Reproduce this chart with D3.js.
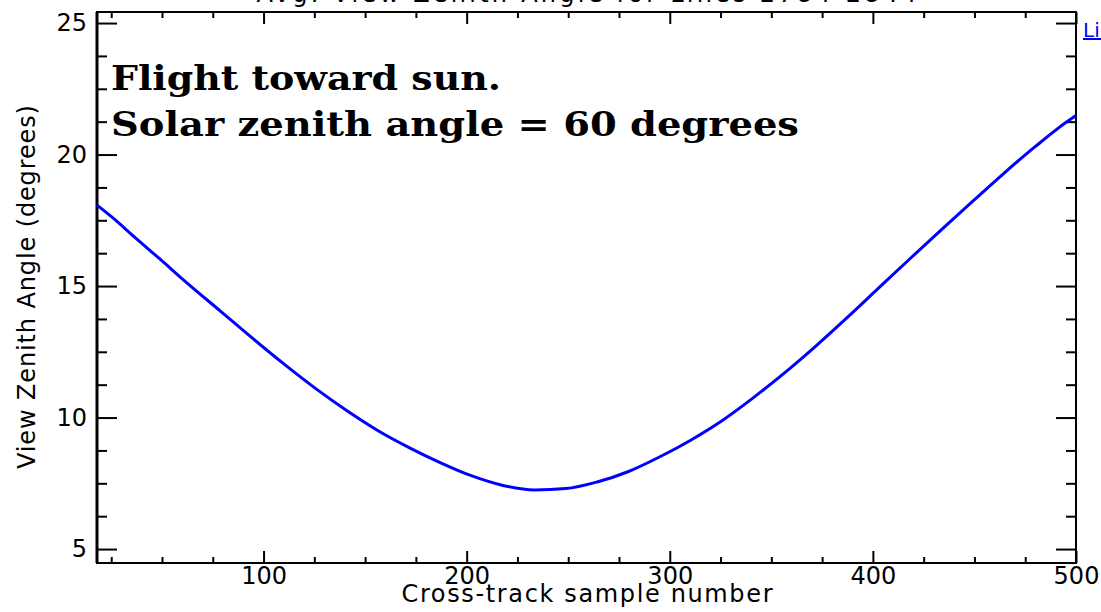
<!DOCTYPE html>
<html>
<head>
<meta charset="utf-8">
<script src="https://cdn.jsdelivr.net/npm/d3@7"></script>
<style>
  body { margin: 0; background: #fff; overflow: hidden; }
  svg { display: block; }
  .tick-label { font-family: "DejaVu Sans", sans-serif; font-size: 24px; fill: #000; }
  .note { font-family: "DejaVu Serif", serif; font-weight: bold; font-size: 33px; fill: #000; }
</style>
</head>
<body>
<div id="chart"></div>
<script>
// cross-track sample number vs average view zenith angle (degrees)
var samples = [18, 25.7, 36.5, 48.8, 61.1, 79.5, 94.8, 110.3, 125.7, 141.1, 156.4, 171.9, 187.2, 202.6, 217.9, 233.4, 248.8,
               264.2, 279.4, 294.9, 310.3, 325.7, 340.9, 356.5, 371.9, 387.3, 402.5, 418, 433.4, 448.8, 464.1, 479.6, 498, 500];
var vza = [18.08, 17.60, 16.86, 16.04, 15.20, 14.00, 13.00, 12.02, 11.10, 10.26, 9.50, 8.85, 8.28, 7.78, 7.42, 7.25, 7.30,
           7.55, 7.94, 8.50, 9.14, 9.88, 10.74, 11.70, 12.72, 13.80, 14.90, 16.02, 17.12, 18.20, 19.26, 20.28, 21.38, 21.48];

var xMajor = [100, 200, 300, 400, 500];
var xMinor = [25, 50, 75, 125, 150, 175, 225, 250, 275, 325, 350, 375, 425, 450, 475];
var yMajor = [5, 10, 15, 20, 25];
var yMinor = [6.25, 7.5, 8.75, 11.25, 12.5, 13.75, 16.25, 17.5, 18.75, 21.25, 22.5, 23.75];

var notes = ["Flight toward sun.", "Solar zenith angle = 60 degrees"];

var width = 1101, height = 612;
var margin = {top: 12, right: 25, bottom: 49, left: 97};
var chartWidth = width - margin.left - margin.right;
var chartHeight = height - margin.top - margin.bottom;

var svg = d3.select("#chart").append("svg")
    .attr("width", width)
    .attr("height", height);

var g = svg.append("g")
    .attr("transform", `translate(${margin.left}, ${margin.top})`);

var xScale = d3.scaleLinear()
    .domain([18, 500])
    .range([0, chartWidth]);

var yScale = d3.scaleLinear()
    .domain([4.47, 25.42])
    .range([chartHeight, 0]);

// axes: major ticks with labels, minor without, mirrored on top/right
g.append("g")
    .attr("transform", `translate(0,${chartHeight})`)
    .call(d3.axisBottom(xScale).tickValues(xMinor).tickSize(-6).tickFormat(""));
g.append("g")
    .attr("transform", `translate(0,${chartHeight})`)
    .call(d3.axisBottom(xScale).tickValues(xMajor).tickSize(-12).tickPadding(4).tickFormat(d3.format("d")));
g.append("g")
    .call(d3.axisTop(xScale).tickValues(xMinor).tickSize(-6).tickFormat(""));
g.append("g")
    .call(d3.axisTop(xScale).tickValues(xMajor).tickSize(-12).tickFormat(""));

g.append("g")
    .call(d3.axisLeft(yScale).tickValues(yMinor).tickSize(-10).tickFormat(""));
g.append("g")
    .call(d3.axisLeft(yScale).tickValues(yMajor).tickSize(-20).tickPadding(10).tickFormat(d3.format("d")));
g.append("g")
    .attr("transform", `translate(${chartWidth},0)`)
    .call(d3.axisRight(yScale).tickValues(yMinor).tickSize(-10).tickFormat(""));
g.append("g")
    .attr("transform", `translate(${chartWidth},0)`)
    .call(d3.axisRight(yScale).tickValues(yMajor).tickSize(-20).tickFormat(""));

g.selectAll(".domain").remove();
g.selectAll(".tick line").attr("stroke", "#000").attr("stroke-width", 2);
g.selectAll(".tick text")
    .attr("class", "tick-label")
    .attr("font-family", null).attr("font-size", null);

// frame
g.append("rect")
    .attr("x", 0).attr("y", 0)
    .attr("width", chartWidth).attr("height", chartHeight)
    .attr("fill", "none").attr("stroke", "#000").attr("stroke-width", 2);
g.append("line")
    .attr("x1", 0).attr("x2", 0).attr("y1", 0).attr("y2", chartHeight)
    .attr("stroke", "#000").attr("stroke-width", 3);

// curve
var line = d3.line()
    .x((d, i) => xScale(samples[i]))
    .y(d => yScale(d))
    .curve(d3.curveMonotoneX);

g.append("path")
    .datum(vza)
    .attr("d", line)
    .attr("fill", "none")
    .attr("stroke", "#0000ff")
    .attr("stroke-width", 3);

// annotations
g.selectAll(".note")
    .data(notes)
    .enter()
    .append("text")
    .attr("class", "note")
    .attr("x", 14)
    .attr("y", (d, i) => 78 + i * 46)
    .attr("textLength", (d, i) => i === 0 ? 390 : 688)
    .attr("lengthAdjust", "spacingAndGlyphs")
    .text(d => d);

// title (mostly cropped off the top)
svg.append("text")
    .attr("x", margin.left + chartWidth / 2)
    .attr("y", 2)
    .attr("text-anchor", "middle")
    .attr("class", "tick-label")
    .attr("textLength", 660)
    .text("Avg. View Zenith Angle for Lines 2784-2844");

// axis titles
svg.append("text")
    .attr("class", "tick-label")
    .attr("x", 587)
    .attr("y", 602)
    .attr("text-anchor", "middle")
    .attr("textLength", 371)
    .text("Cross-track sample number");

svg.append("text")
    .attr("class", "tick-label")
    .attr("transform", "translate(35,287) rotate(-90)")
    .attr("text-anchor", "middle")
    .attr("textLength", 364)
    .text("View Zenith Angle (degrees)");

// link text at the right edge
svg.append("text")
    .attr("x", 1083)
    .attr("y", 37)
    .attr("font-family", "DejaVu Sans, sans-serif")
    .attr("font-size", 20)
    .attr("fill", "#0000ee")
    .attr("text-decoration", "underline")
    .text("Link");
</script>
</body>
</html>
